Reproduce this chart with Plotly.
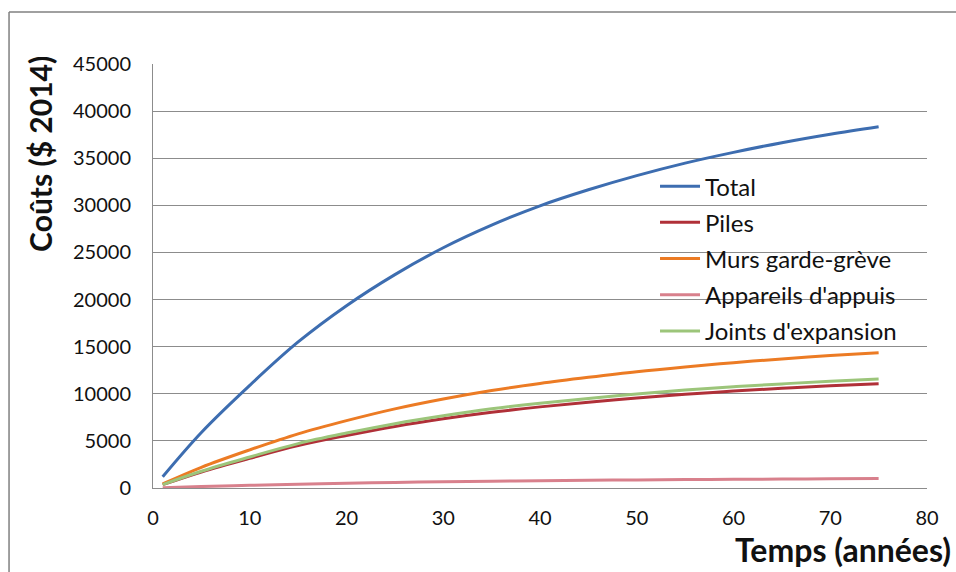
import plotly.graph_objects as go

annees = [1, 5, 10, 15, 20, 25, 30, 35, 40, 45, 50, 55, 60, 65, 70, 75]

total = [1200, 5900, 10900, 15500, 19350, 22650, 25500, 27900, 29950, 31650, 33150, 34480, 35620, 36650, 37550, 38350]
piles = [350, 1700, 3150, 4500, 5570, 6530, 7340, 8030, 8610, 9100, 9540, 9940, 10290, 10580, 10840, 11070]
murs = [430, 2200, 4050, 5750, 7150, 8400, 9450, 10350, 11100, 11750, 12350, 12850, 13300, 13700, 14050, 14350]
appareils = [30, 155, 285, 405, 500, 590, 660, 725, 775, 820, 860, 895, 925, 950, 975, 995]
joints = [360, 1780, 3290, 4710, 5830, 6830, 7670, 8400, 9000, 9510, 9970, 10390, 10750, 11050, 11330, 11570]

series = [
    ("Total", total, "#3D6DB0"),
    ("Piles", piles, "#B03038"),
    ("Murs garde-grève", murs, "#EC7B24"),
    ("Appareils d'appuis", appareils, "#D8808C"),
    ("Joints d'expansion", joints, "#9CC57A"),
]

FONT = "Lato"

fig = go.Figure()
for name, vals, color in series:
    fig.add_trace(go.Scatter(
        x=annees, y=vals, name=name, mode="lines", legendgroup=name,
        line=dict(color=color, width=3, shape="spline"),
    ))

grid = "#8C8C8C"
frame = dict(color="#808080", width=1.5)
fig.update_layout(
    width=956, height=572,
    margin=dict(l=153, r=29, t=64, b=84),
    paper_bgcolor="white", plot_bgcolor="white",
    font=dict(family=FONT, size=20, color="#111111"),
    showlegend=True,
    legend=dict(
        x=0.6486, y=0.764, xanchor="left", yanchor="top",
        bgcolor="rgba(0,0,0,0)", borderwidth=0,
        font=dict(family=FONT, size=24, color="#111111"),
        tracegroupgap=2, itemwidth=40,
    ),
    xaxis=dict(
        range=[0, 80], tickvals=[0, 10, 20, 30, 40, 50, 60, 70, 80],
        showgrid=False, zeroline=False,
        showline=True, linecolor=grid, linewidth=1,
        ticks="", ticklabelstandoff=12,
        tickfont=dict(family=FONT, size=20),
    ),
    yaxis=dict(
        range=[0, 45000], tickvals=[0, 5000, 10000, 15000, 20000, 25000, 30000, 35000, 40000, 45000],
        ticktext=["0", "5000", "10000", "15000", "20000", "25000", "30000", "35000", "40000", "45000"],
        showgrid=True, gridcolor=grid, gridwidth=1,
        zeroline=False, showline=True, linecolor=grid, linewidth=1,
        ticks="", ticklabelstandoff=17,
        tickfont=dict(family=FONT, size=20),
    ),
    annotations=[
        dict(text="<b>Coûts ($ 2014)</b>", xref="paper", yref="paper",
             x=-0.146, y=0.788, xanchor="center", yanchor="middle",
             textangle=-90, showarrow=False,
             font=dict(family=FONT, size=30, color="#111111")),
        dict(text="<b>Temps (années)</b>", xref="paper", yref="paper",
             x=1.0336, y=-0.146, xanchor="right", yanchor="middle",
             showarrow=False,
             font=dict(family=FONT, size=32, color="#111111")),
    ],
    shapes=[
        dict(type="line", xref="paper", yref="paper",
             x0=-0.186, y0=-0.3, x1=-0.186, y1=1.1226, line=frame, layer="below"),
        dict(type="line", xref="paper", yref="paper",
             x0=-0.186, y0=1.1226, x1=1.06, y1=1.1226, line=frame, layer="below"),
    ],
)

fig.write_html(
    "out.html",
    config={"displayModeBar": False},
    post_script="document.body.style.margin='0';document.body.style.overflow='hidden';",
)
